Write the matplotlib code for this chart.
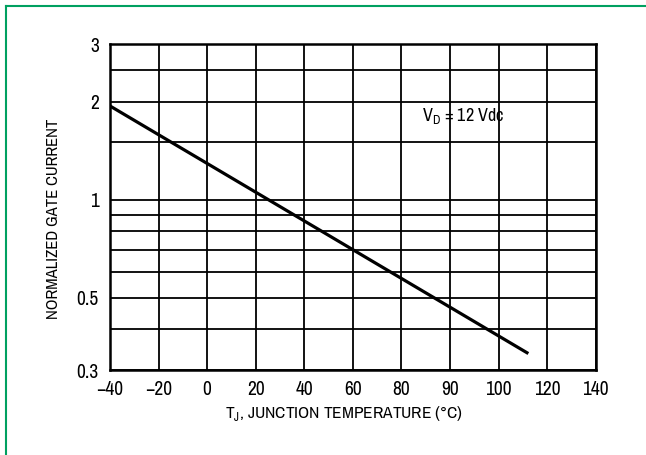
import matplotlib
matplotlib.use("Agg")
import matplotlib.pyplot as plt
from matplotlib.lines import Line2D
from matplotlib import font_manager

names = sorted({f.name for f in font_manager.fontManager.ttflist})
cond = [n for n in names if ('Narrow' in n or 'Condensed' in n)]
plt.rcParams['font.family'] = cond[:1] + ['Liberation Sans', 'DejaVu Sans']

# Data
line_temp = [-40, 131.7]          # axis units (x positions)
line_current = [1.94, 0.339]      # normalized gate current
x_tick_pos = [-40, -20, 0, 20, 40, 60, 80, 100, 120, 140, 160]
x_tick_labels = ["−40", "−20", "0", "20", "40", "60", "80", "90", "100", "120", "140"]
y_grid = [0.3, 0.4, 0.5, 0.6, 0.7, 0.8, 0.9, 1, 1.5, 2, 2.5, 3]
y_tick_pos = [0.3, 0.5, 1, 2, 3]
y_tick_labels = ["0.3", "0.5", "1", "2", "3"]

fig = plt.figure(figsize=(6.46, 4.55), dpi=100)
ax = fig.add_axes([0.1703, 0.1868, 0.9221 - 0.1703, 0.9026 - 0.1868])
ax.set_yscale('log')
ax.set_xlim(-40, 160)
ax.set_ylim(0.3, 3)

for v in x_tick_pos:
    ax.axvline(v, color='black', lw=1.3, zorder=1)
for v in y_grid:
    ax.axhline(v, color='black', lw=1.3, zorder=1)

ax.plot(line_temp, line_current, color='black', lw=2.3, zorder=3)

ax.set_xticks(x_tick_pos)
ax.set_xticklabels(x_tick_labels)
ax.set_yticks(y_tick_pos)
ax.set_yticklabels(y_tick_labels)
ax.yaxis.set_minor_locator(matplotlib.ticker.NullLocator())
ax.tick_params(axis='both', length=0, labelsize=14)
ax.tick_params(axis='x', pad=7)
ax.tick_params(axis='y', pad=8)
for s in ax.spines.values():
    s.set_linewidth(1.8)

ax.set_xlabel(r'T$_{\mathregular{J}}$, JUNCTION TEMPERATURE (°C)', fontsize=12.5)
ax.xaxis.set_label_coords(0.482, -0.147, transform=ax.transAxes)
ax.xaxis.label.set_va('baseline')
ax.set_ylabel('NORMALIZED GATE CURRENT', fontsize=12)
ax.yaxis.set_label_coords(-0.100, 0.464, transform=ax.transAxes)

ax.text(0.642, 0.765, r'V$_{\mathregular{D}}$ = 12 Vdc', transform=ax.transAxes,
        fontsize=13, ha='left', va='baseline')

green = '#00a060'
fig.add_artist(Line2D([5.5/646, 5.5/646], [0, 1 - 6/455], color=green, lw=1.5, transform=fig.transFigure))
fig.add_artist(Line2D([5.5/646, 1], [1 - 6/455, 1 - 6/455], color=green, lw=1.5, transform=fig.transFigure))

fig.savefig('out.png', dpi=100)
